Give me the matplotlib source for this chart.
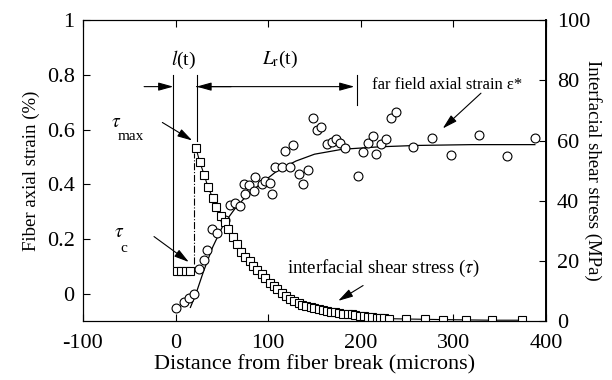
import matplotlib
matplotlib.use("Agg")
import matplotlib.pyplot as plt

plt.rcParams['font.family'] = ['Liberation Serif', 'DejaVu Serif']
plt.rcParams['mathtext.fontset'] = 'stix'
plt.rcParams['axes.unicode_minus'] = False

# fiber axial strain (%) measured along the fiber
strain_x = [0, 8.9, 14.3, 19.7, 25.1, 30.4, 34.1, 39.5, 44.8, 53.8, 59.1, 64.5,
            69.9, 75.3, 73.4, 78.8, 84.2, 86, 93.2, 96.8, 102, 104.6, 107.5, 114.7,
            118.3, 123.7, 127.2, 133.7, 137.3, 143.3, 148.7, 152.4, 157, 163.1,
            168.5, 173.1, 177.4, 182.8, 197.1, 202.5, 207.8, 213.2, 216.9, 222.3,
            226.9, 233, 237.6, 256.2, 277.1, 297.5, 328, 358.4, 387.8]
strain_y = [-0.051, -0.032, -0.016, -0.001, 0.091, 0.125, 0.159, 0.236, 0.221,
            0.268, 0.326, 0.332, 0.32, 0.363, 0.4, 0.396, 0.375, 0.425, 0.4, 0.412,
            0.406, 0.363, 0.462, 0.462, 0.52, 0.462, 0.542, 0.437, 0.4, 0.453,
            0.643, 0.597, 0.61, 0.548, 0.554, 0.564, 0.552, 0.532, 0.431, 0.517,
            0.552, 0.577, 0.511, 0.548, 0.567, 0.643, 0.663, 0.536, 0.569, 0.507,
            0.581, 0.503, 0.57]

# fitted strain curve
fit_x = [16, 22, 30, 40, 52, 65, 80, 95, 110, 130, 150, 180, 220, 260, 320, 388]
fit_y = [-0.05, 0.0, 0.08, 0.17, 0.255, 0.315, 0.37, 0.41, 0.45, 0.485, 0.51,
         0.528, 0.537, 0.542, 0.545, 0.545]

# interfacial shear stress (MPa)
tauc_x = [1, 6, 11, 16]
tauc_y = [16.5, 16.5, 16.5, 16.5]

tau_x = [22, 26, 31, 35, 40, 44, 49, 53, 57, 62, 66, 71, 75, 80, 84, 88, 93, 97,
         102, 106, 110, 115, 119, 124, 128, 133, 137, 141, 146, 150, 155, 159,
         163, 168, 172, 177, 181, 186, 190, 194, 199, 203, 208, 212, 217, 221,
         225, 230, 249, 269, 289, 314, 342, 374]
tau_y = [57.5, 53, 48.5, 44.5, 41, 38, 35, 33, 30.5, 28, 25.5, 23, 21.3, 20, 18.3,
         17, 15.6, 14.2, 12.8, 11.6, 10.5, 9.5, 8.4, 7.3, 6.7, 6.1, 5.5, 5, 4.6,
         4.2, 3.9, 3.6, 3.3, 3.1, 2.9, 2.7, 2.5, 2.3, 2.2, 2.0, 1.8, 1.6, 1.4, 1.3,
         1.1, 1.0, 0.9, 0.8, 0.7, 0.6, 0.5, 0.4, 0.3, 0.3]

x_ticks = [-100, 0, 100, 200, 300, 400]
left_ticks = [0, 0.2, 0.4, 0.6, 0.8, 1]
left_labels = ["0", "0.2", "0.4", "0.6", "0.8", "1"]
right_ticks = [0, 20, 40, 60, 80, 100]

fig = plt.figure(figsize=(6.12, 3.8), dpi=100)
ax = fig.add_axes([0.1356, 0.155, 0.7565, 0.792])
ax2 = ax.twinx()

ax.plot(fit_x, fit_y, color='k', lw=0.9)
ax.plot(strain_x, strain_y, 'o', mfc='white', mec='k', mew=0.8, ms=6.4)

ax2.plot(tau_x, tau_y, '-s', color='k', mfc='white', mec='k', mew=0.8, ms=5.8, lw=0.8)
ax2.plot(tauc_x, tauc_y, 's', mfc='white', mec='k', mew=0.8, ms=5.8)
ax2.plot([20, 20], [19, 56], color='k', lw=0.8, ls='-.')

ax.set_xlim(-100, 400)
ax.set_ylim(-0.1, 1.0)
ax2.set_ylim(0, 100)

ax.set_xticks(x_ticks)
ax.set_yticks(left_ticks)
ax.set_yticklabels(left_labels)
ax2.set_yticks(right_ticks)
ax.tick_params(axis='both', direction='in', length=5, labelsize=16, top=True, width=0.8)
ax2.tick_params(axis='y', direction='in', length=5, labelsize=16, width=0.8, pad=8)
ax.tick_params(axis='x', pad=9)
ax.tick_params(axis='y', pad=6)

ax.set_xlabel("Distance from fiber break (microns)", fontsize=16, labelpad=2)
ax.set_ylabel("Fiber axial strain (%)", fontsize=13.5, labelpad=5)
ax2.set_ylabel("Interfacial shear stress (MPa)", fontsize=13.5, rotation=270, labelpad=8)

for s in ax2.spines.values():
    s.set_linewidth(0.8)
ax2.spines['right'].set_linewidth(1.4)

# debond length and recovery length markers
ax.plot([-2.5, -2.5], [0.1, 0.8], color='k', lw=0.8)
ax.plot([22.6, 22.6], [0.56, 0.8], color='k', lw=0.8)
ax.plot([196, 196], [0.69, 0.80], color='k', lw=0.8)
head = dict(arrowstyle='-|>,head_length=0.9,head_width=0.25', color='k', lw=0.8,
            shrinkA=0, shrinkB=0)
ax.annotate("", xy=(-2.5, 0.757), xytext=(-34, 0.757), arrowprops=head)
ax.annotate("", xy=(22.6, 0.757), xytext=(60, 0.757), arrowprops=head)
ax.annotate("", xy=(193, 0.757), xytext=(22.6, 0.757), arrowprops=head)

ax.text(8.6, 0.856, r"$l$(t)", fontsize=14, ha='center', va='center')
ax.text(113, 0.856, r"$L_{\mathrm{r}}$(t)", fontsize=14, ha='center', va='center')

ax.text(-64.5, 0.625, r"$\tau$", fontsize=14, ha='center', va='center')
ax.text(-48, 0.575, "max", fontsize=11, ha='center', va='center')
ax.annotate("", xy=(18, 0.56), xytext=(-14.3, 0.626), arrowprops=head)

ax.text(-61, 0.225, r"$\tau$", fontsize=14, ha='center', va='center')
ax.text(-56, 0.165, "c", fontsize=11, ha='center', va='center')
ax.annotate("", xy=(14.3, 0.116), xytext=(-23.3, 0.209), arrowprops=head)

ax.text(212, 0.763, "far field axial strain ε*", fontsize=12, ha='left', va='center')
ax.annotate("", xy=(288.5, 0.604), xytext=(329.8, 0.733), arrowprops=head)

ax.text(120.4, 0.093, r"interfacial shear stress ($\tau$)", fontsize=13.5,
        ha='left', va='center')
ax.annotate("", xy=(175.6, -0.026), xytext=(202.5, 0.03), arrowprops=head)

fig.savefig("out.png", dpi=100)
